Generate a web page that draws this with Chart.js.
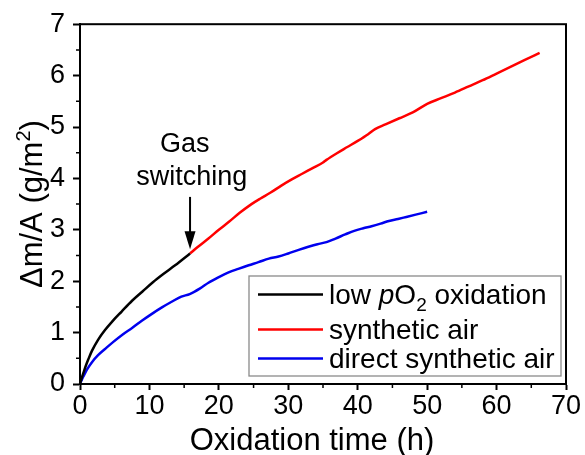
<!DOCTYPE html>
<html><head><meta charset="utf-8">
<script src="https://cdn.jsdelivr.net/npm/chart.js@4/dist/chart.umd.min.js"></script>
<style>html,body{margin:0;padding:0;background:#fff;}#wrap{width:585px;height:455px;}</style>
</head><body><div id="wrap"><canvas id="c" width="585" height="455"></canvas></div>
<script>
// ---- data ----
const lowPO2Time = [0, 0.25, 0.5, 0.8, 1.2, 1.7, 2.6, 3.6, 4.6, 6.0, 7.5, 9.0, 10.5, 12.0, 13.7, 15.85];
const lowPO2Gain = [0, 0.12, 0.22, 0.34, 0.48, 0.64, 0.86, 1.05, 1.21, 1.41, 1.62, 1.80, 1.98, 2.14, 2.31, 2.54];

const synthAirTime = [15.85, 17, 18.5, 20, 21.5, 23, 24.7, 26, 27.4, 29, 30.5, 32, 33.5, 35, 35.5, 37, 38.5, 40, 41.5, 42.5, 44, 46, 48, 50, 52, 54, 56, 58, 60, 62, 64, 66.2];
const synthAirGain = [2.54, 2.67, 2.83, 3.00, 3.16, 3.33, 3.50, 3.61, 3.72, 3.86, 3.98, 4.09, 4.20, 4.31, 4.36, 4.49, 4.61, 4.73, 4.86, 4.96, 5.05, 5.17, 5.29, 5.45, 5.56, 5.67, 5.79, 5.91, 6.04, 6.17, 6.30, 6.44];

const directAirTime = [0, 0.25, 0.5, 1.0, 1.7, 2.6, 3.6, 4.8, 6.2, 7.5, 8.9, 10.3, 11.8, 13.2, 14.6, 15.8, 17.3, 18.5, 20.0, 21.4, 22.8, 24.3, 25.7, 27.2, 28.6, 30.0, 31.5, 32.9, 34.2, 35.5, 36.8, 38.2, 39.5, 40.8, 42.0, 43.3, 44.5, 45.8, 47.0, 48.5, 50.0];
const directAirGain = [0, 0.08, 0.15, 0.28, 0.42, 0.56, 0.68, 0.82, 0.97, 1.09, 1.23, 1.36, 1.49, 1.60, 1.70, 1.75, 1.86, 1.97, 2.08, 2.17, 2.24, 2.31, 2.37, 2.44, 2.48, 2.54, 2.61, 2.67, 2.72, 2.76, 2.83, 2.91, 2.98, 3.03, 3.07, 3.12, 3.17, 3.21, 3.25, 3.30, 3.35];

const xTickValues = [0, 10, 20, 30, 40, 50, 60, 70];
const yTickValues = [0, 1, 2, 3, 4, 5, 6, 7];
const seriesNames = ['low pO2 oxidation', 'synthetic air', 'direct synthetic air'];
const seriesColors = ['#000000', '#ff0000', '#0000ee'];
const xTitle = 'Oxidation time (h)';
const yTitleMain = 'Δm/A (g/m';
const yTitleSup = '2';
const yTitleEnd = ')';
const noteLines = ['Gas', 'switching'];
const switchTime = 15.85;

// ---- drawing ----
const FONT = '"Liberation Sans", Arial, Helvetica, sans-serif';
function pts(xs, ys) { return xs.map((x, i) => ({ x: x, y: ys[i] })); }

function drawRich(ctx, parts, x, y) {
  let cx = x;
  for (const p of parts) {
    ctx.font = (p.style || '') + ' ' + p.size + 'px ' + FONT;
    ctx.fillText(p.t, cx, y + (p.dy || 0));
    cx += ctx.measureText(p.t).width;
  }
  return cx - x;
}
function measureRich(ctx, parts) {
  let w = 0;
  for (const p of parts) {
    ctx.font = (p.style || '') + ' ' + p.size + 'px ' + FONT;
    w += ctx.measureText(p.t).width;
  }
  return w;
}

const decor = {
  id: 'decor',
  afterDraw(chart) {
    const ctx = chart.ctx, a = chart.chartArea;
    const xs = chart.scales.x, ys = chart.scales.y;
    ctx.save();
    // frame
    ctx.strokeStyle = '#000'; ctx.lineWidth = 2;
    ctx.strokeRect(a.left, a.top, a.right - a.left, a.bottom - a.top);
    // minor ticks
    ctx.lineWidth = 1.5;
    ctx.beginPath();
    for (let i = 0; i < xTickValues.length - 1; i++) {
      const px = xs.getPixelForValue((xTickValues[i] + xTickValues[i + 1]) / 2);
      ctx.moveTo(px, a.bottom); ctx.lineTo(px, a.bottom + 4);
    }
    for (let i = 0; i < yTickValues.length - 1; i++) {
      const py = ys.getPixelForValue((yTickValues[i] + yTickValues[i + 1]) / 2);
      ctx.moveTo(a.left, py); ctx.lineTo(a.left - 4, py);
    }
    ctx.stroke();

    // annotation
    ctx.fillStyle = '#000';
    ctx.font = '27px ' + FONT;
    ctx.textAlign = 'center'; ctx.textBaseline = 'alphabetic';
    ctx.fillText(noteLines[0], xs.getPixelForValue(15.1), ys.getPixelForValue(4.51));
    ctx.fillText(noteLines[1], xs.getPixelForValue(16.1), ys.getPixelForValue(3.87));
    const ax = xs.getPixelForValue(switchTime);
    const aTop = ys.getPixelForValue(3.64), aTip = ys.getPixelForValue(2.62);
    ctx.lineWidth = 2;
    ctx.beginPath(); ctx.moveTo(ax, aTop); ctx.lineTo(ax, aTip - 10); ctx.stroke();
    ctx.beginPath(); ctx.moveTo(ax - 5.5, aTip - 18); ctx.lineTo(ax + 5.5, aTip - 18); ctx.lineTo(ax, aTip); ctx.closePath(); ctx.fill();

    // axis titles
    ctx.font = '31px ' + FONT;
    ctx.textAlign = 'center';
    ctx.fillText(xTitle, 312, 450);
    const yParts = [{ t: yTitleMain, size: 31 }, { t: yTitleSup, size: 20, dy: -12 }, { t: yTitleEnd, size: 31 }];
    ctx.save();
    ctx.translate(42, (a.top + a.bottom) / 2);
    ctx.rotate(-Math.PI / 2);
    ctx.textAlign = 'left';
    const w = measureRich(ctx, yParts);
    drawRich(ctx, yParts, -w / 2, 0);
    ctx.restore();

    // legend
    const box = { l: 249, t: 276, r: 561, b: 376 };
    ctx.fillStyle = '#fff';
    ctx.fillRect(box.l, box.t, box.r - box.l, box.b - box.t);
    ctx.strokeStyle = '#8a8a8a'; ctx.lineWidth = 1.3;
    ctx.strokeRect(box.l, box.t, box.r - box.l, box.b - box.t);
    const baselines = [304, 339, 368];
    const labelParts = [
      [{ t: 'low ', size: 28 }, { t: 'p', size: 28, style: 'italic' }, { t: 'O', size: 28 }, { t: '2', size: 19, dy: 7 }, { t: ' oxidation', size: 28 }],
      [{ t: seriesNames[1], size: 28 }],
      [{ t: seriesNames[2], size: 28 }]
    ];
    ctx.textAlign = 'left';
    for (let i = 0; i < 3; i++) {
      const ly = baselines[i] - 9.5;
      ctx.strokeStyle = seriesColors[i]; ctx.lineWidth = 2.5;
      ctx.beginPath(); ctx.moveTo(258, ly); ctx.lineTo(323, ly); ctx.stroke();
      ctx.fillStyle = '#000';
      drawRich(ctx, labelParts[i], 329, baselines[i]);
    }
    ctx.restore();
  }
};

new Chart(document.getElementById('c'), {
  type: 'line',
  data: {
    datasets: [
      { label: seriesNames[0], data: pts(lowPO2Time, lowPO2Gain), borderColor: seriesColors[0] },
      { label: seriesNames[1], data: pts(synthAirTime, synthAirGain), borderColor: seriesColors[1] },
      { label: seriesNames[2], data: pts(directAirTime, directAirGain), borderColor: seriesColors[2] }
    ].map(d => Object.assign(d, { borderWidth: 2.5, pointRadius: 0, cubicInterpolationMode: 'monotone', fill: false, clip: false }))
  },
  options: {
    responsive: false, animation: false, devicePixelRatio: 1,
    layout: { padding: { top: 24, right: 19, left: 0, bottom: 0 } },
    plugins: { legend: { display: false }, tooltip: { enabled: false } },
    scales: {
      x: {
        type: 'linear', min: xTickValues[0], max: xTickValues[xTickValues.length - 1],
        afterFit(s) { s.height = 71; },
        afterBuildTicks(s) { s.ticks = xTickValues.map(v => ({ value: v })); },
        ticks: { color: '#000', font: { size: 27, family: FONT }, padding: 0, maxRotation: 0, autoSkip: false },
        grid: { drawOnChartArea: false, drawTicks: true, tickLength: 6, tickWidth: 2, tickColor: '#000' },
        border: { display: true, color: '#000', width: 2 }
      },
      y: {
        type: 'linear', min: yTickValues[0], max: yTickValues[yTickValues.length - 1],
        afterFit(s) { s.width = 80; },
        afterBuildTicks(s) { s.ticks = yTickValues.map(v => ({ value: v })); },
        ticks: { color: '#000', font: { size: 27, family: FONT }, padding: 8, autoSkip: false },
        grid: { drawOnChartArea: false, drawTicks: true, tickLength: 7, tickWidth: 2, tickColor: '#000' },
        border: { display: true, color: '#000', width: 2 }
      }
    }
  },
  plugins: [decor]
});
</script>
</body></html>
